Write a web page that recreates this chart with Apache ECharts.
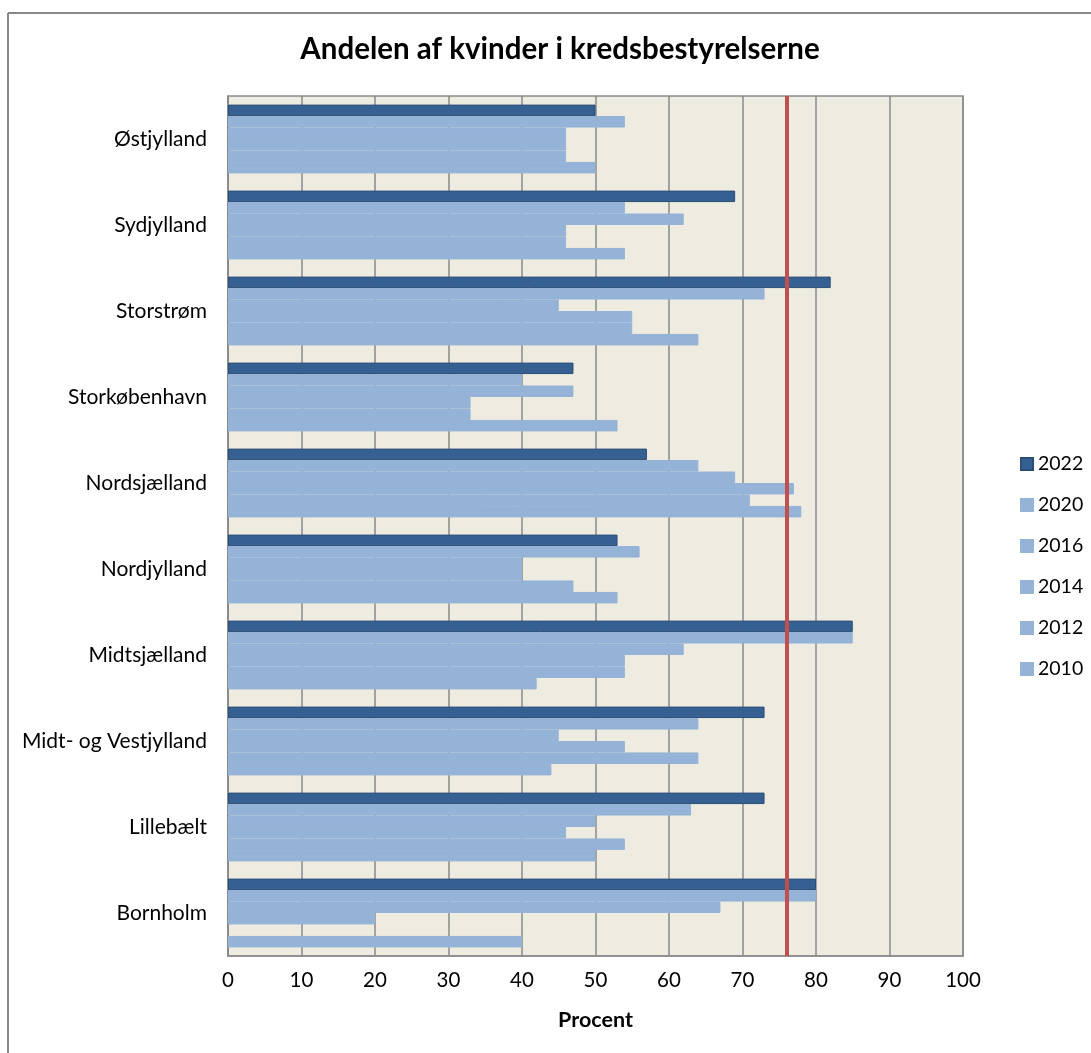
<!DOCTYPE html>
<html>
<head>
<meta charset="utf-8">
<script src="https://cdn.jsdelivr.net/npm/echarts@6/dist/echarts.min.js"></script>
<style>html,body{margin:0;padding:0;background:#fff;}#chart{width:1091px;height:1053px;}</style>
</head>
<body>
<div id="chart"></div>
<script>
const categories = ['Østjylland','Sydjylland','Storstrøm','Storkøbenhavn','Nordsjælland','Nordjylland','Midtsjælland','Midt- og Vestjylland','Lillebælt','Bornholm'];
const xTicks = [0,10,20,30,40,50,60,70,80,90,100];
const targetValue = 76;
const v2022 = [50,69,82,47,57,53,85,73,73,80];
const v2020 = [54,54,73,40,64,56,85,64,63,80];
const v2016 = [46,62,45,47,69,40,62,45,50,67];
const v2014 = [46,46,55,33,77,40,54,54,46,20];
const v2012 = [46,46,55,33,71,47,54,64,54,null];
const v2010 = [50,54,64,53,78,53,42,44,50,40];

const dark = '#376092', light = '#95B3D7';
const font = 'Lato, "Open Sans", sans-serif';
function mk(name, data, color, border, bw){
  return {name, type:'bar', data, barGap:'0%', barCategoryGap:'20%',
    itemStyle:{color, borderColor:border, borderWidth:bw}, emphasis:{disabled:true}};
}
const series = [
  mk('2022', v2022, dark, '#2c4d75', 1),
  mk('2020', v2020, light, light, 1),
  mk('2016', v2016, light, light, 1),
  mk('2014', v2014, light, light, 1),
  mk('2012', v2012, light, light, 1),
  mk('2010', v2010, light, light, 1)
];
series[0].markLine = {silent:true, symbol:'none', label:{show:false},
  lineStyle:{color:'#C0504D', width:4, type:'solid'}, data:[{xAxis:targetValue}]};

const chart = echarts.init(document.getElementById('chart'), null, {renderer:'canvas'});
chart.setOption({
  animation:false,
  backgroundColor:'#fff',
  title:{text:'Andelen af kvinder i kredsbestyrelserne', left:555, top:29, textAlign:'center',
    textStyle:{fontFamily:font, fontWeight:'bold', fontSize:29.5, color:'#000'}},
  legend:{orient:'vertical', left:1015, top:449, itemWidth:12, itemHeight:12, itemGap:21, icon:'rect',
    textStyle:{fontFamily:font, fontSize:19.5, color:'#000', lineHeight:20},
    data:['2022','2020','2016','2014','2012','2010']},
  grid:{left:228, right:128, top:96, bottom:97, show:true, backgroundColor:'#EEECE1', borderColor:'#8a8a8a', borderWidth:1.5},
  xAxis:{type:'value', min:xTicks[0], max:xTicks[xTicks.length-1], interval:10,
    name:'Procent', nameLocation:'middle', nameGap:53,
    nameTextStyle:{fontFamily:font, fontWeight:'bold', fontSize:21.5, color:'#000'},
    axisLabel:{fontFamily:font, fontSize:20.5, color:'#000', margin:14},
    axisLine:{show:true, lineStyle:{color:'#8a8a8a', width:1.5}},
    axisTick:{show:false},
    splitLine:{show:true, lineStyle:{color:'#8a8a8a', width:1.5}}},
  yAxis:{type:'category', data:categories, inverse:true,
    axisLabel:{fontFamily:font, fontSize:21, color:'#000', margin:21},
    axisLine:{show:true, lineStyle:{color:'#8a8a8a', width:1.5}},
    axisTick:{show:false}, splitLine:{show:false}},
  graphic:[
    {type:'line', shape:{x1:8, y1:13, x2:1091, y2:13}, style:{stroke:'#888', lineWidth:2}},
    {type:'line', shape:{x1:8, y1:13, x2:8, y2:1053}, style:{stroke:'#888', lineWidth:2}}
  ],
  series
});
</script>
</body>
</html>
